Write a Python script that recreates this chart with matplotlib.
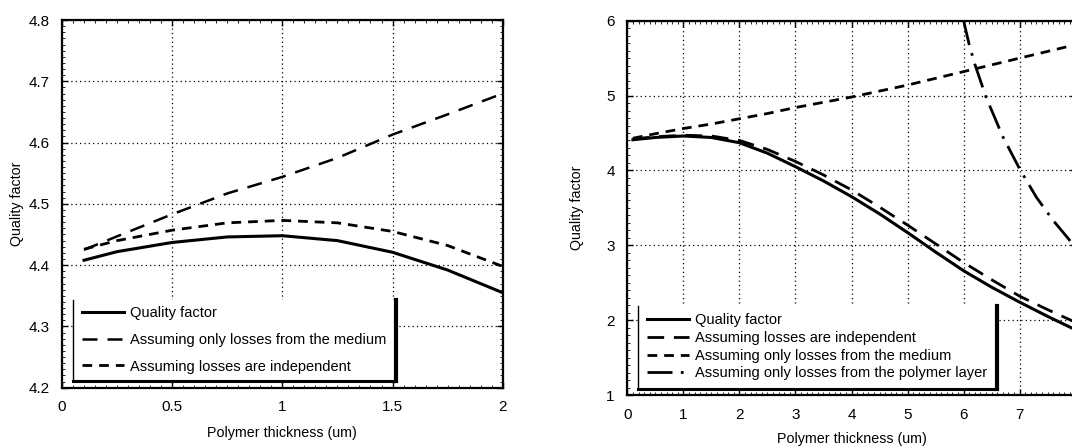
import numpy as np
import matplotlib
matplotlib.use("Agg")
import matplotlib.pyplot as plt
from matplotlib.patches import Rectangle
from matplotlib.lines import Line2D
from matplotlib.ticker import AutoMinorLocator

plt.rcParams['font.family'] = ['Liberation Sans', 'DejaVu Sans']

# left panel: thin polymer layer
x_left = [0.1, 0.25, 0.5, 0.75, 1.0, 1.25, 1.5, 1.75, 2.0]
q_left = [4.408, 4.422, 4.437, 4.446, 4.448, 4.440, 4.421, 4.392, 4.355]
medium_left = [4.425, 4.447, 4.483, 4.517, 4.544, 4.575, 4.613, 4.646, 4.680]
indep_left = [4.426, 4.440, 4.457, 4.469, 4.473, 4.469, 4.455, 4.432, 4.398]

# right panel: thick polymer layer
x_right = [0.1, 0.5, 1.0, 1.5, 2.0, 2.5, 3.0, 3.5, 4.0, 4.5, 5.0, 5.5, 6.0, 6.5, 7.0, 7.5, 8.0]
q_right = [4.41, 4.44, 4.46, 4.44, 4.37, 4.23, 4.05, 3.86, 3.65, 3.42, 3.17, 2.91, 2.66, 2.44, 2.24, 2.05, 1.87]
indep_right = [4.42, 4.45, 4.47, 4.46, 4.40, 4.28, 4.12, 3.94, 3.74, 3.51, 3.27, 3.02, 2.77, 2.54, 2.32, 2.14, 1.97]
medium_right = [4.43, 4.49, 4.56, 4.62, 4.69, 4.76, 4.84, 4.91, 4.98, 5.06, 5.14, 5.23, 5.32, 5.41, 5.50, 5.59, 5.68]
x_poly = [6.0, 6.1, 6.2, 6.4, 6.7, 7.0, 7.3, 7.6, 8.0]
poly_right = [6.0, 5.68, 5.42, 4.98, 4.45, 4.02, 3.64, 3.33, 2.97]

W, H = 1072, 448
fig = plt.figure(figsize=(W / 100, H / 100), dpi=100)

ax1 = fig.add_axes([62 / W, 1 - 387.7 / H, 440.7 / W, 367.7 / H])
ax2 = fig.add_axes([627.3 / W, 1 - 395 / H, 448.4 / W, 374.3 / H])


def style_axes(ax):
    ax.grid(True, which='major', color='black', linestyle=(0, (1, 2.5)), linewidth=0.9)
    ax.set_axisbelow(True)
    for s in ax.spines.values():
        s.set_linewidth(1.6)
        s.set_color('black')
    ax.tick_params(which='both', direction='in', top=True, right=True, labelsize=11)
    ax.tick_params(axis='x', pad=9)
    ax.tick_params(axis='y', pad=9)
    ax.tick_params(which='major', length=4, width=1)
    ax.tick_params(which='minor', length=2, width=0.6)
    ax.xaxis.set_minor_locator(AutoMinorLocator(10))
    ax.yaxis.set_minor_locator(AutoMinorLocator(10))
    ax.set_ylabel('Quality factor', fontsize=10.3)
    ax.set_xlabel('Polymer thickness (um)', fontsize=10.3)


def legend_box(ax, x0, y0, x1, y1):
    ax.add_patch(Rectangle((x0, y0), x1 - x0, y1 - y0, transform=ax.transAxes,
                           facecolor='white', edgecolor='none', zorder=4, clip_on=False))
    ax.add_line(Line2D([x0, x0], [y1, y0], transform=ax.transAxes, color='black', lw=1.0, zorder=4.5))
    ax.add_line(Line2D([x0, x1], [y0, y0], transform=ax.transAxes, color='black', lw=2.2, zorder=4.5))
    ax.add_line(Line2D([x1, x1], [y0, y1], transform=ax.transAxes, color='black', lw=3.0, zorder=4.5))


# ----- left panel -----
style_axes(ax1)
ax1.plot(x_left, q_left, color='black', lw=2.2, label='Quality factor')
ax1.plot(x_left, medium_left, color='black', lw=1.8, dashes=(6, 4),
         label='Assuming only losses from the medium')
ax1.plot(x_left, indep_left, color='black', lw=2.0, dashes=(3.5, 2.5),
         label='Assuming losses are independent')
ax1.set_xlim(0, 2)
ax1.set_ylim(4.2, 4.8)
ax1.set_xticks([0, 0.5, 1, 1.5, 2])
ax1.set_xticklabels(['0', '0.5', '1', '1.5', '2'])
ax1.set_yticks(np.arange(4.2, 4.81, 0.1))
ax1.yaxis.set_label_coords(-0.086, 0.5)
ax1.xaxis.labelpad = 8.5

legend_box(ax1, 0.0256, 0.018, 0.757, 0.2385)
h1, l1 = ax1.get_legend_handles_labels()
leg1 = ax1.legend(h1, l1, loc='upper left', bbox_to_anchor=(0.0447, 0.221), frameon=False,
                  fontsize=10.5, handlelength=2.9, handletextpad=0.43, labelspacing=0.86,
                  borderaxespad=0, borderpad=0)
leg1.set_zorder(6)

# ----- right panel -----
style_axes(ax2)
ax2.plot(x_right, q_right, color='black', lw=2.2, label='Quality factor')
ax2.plot(x_right, indep_right, color='black', lw=2.0, dashes=(6, 3.5),
         label='Assuming losses are independent')
ax2.plot(x_right, medium_right, color='black', lw=2.0, dashes=(3.5, 2.5),
         label='Assuming only losses from the medium')
ax2.plot(x_poly, poly_right, color='black', lw=2.0, dashes=(9, 3, 1, 3),
         label='Assuming only losses from the polymer layer')
ax2.set_xlim(0, 8)
ax2.set_ylim(1, 6)
ax2.set_xticks(range(0, 9))
ax2.set_yticks(range(1, 7))
ax2.yaxis.set_label_coords(-0.097, 0.5)
ax2.xaxis.labelpad = 7.5

legend_box(ax2, 0.0245, 0.015, 0.824, 0.238)
h2, l2 = ax2.get_legend_handles_labels()
leg2 = ax2.legend(h2, l2, loc='upper left', bbox_to_anchor=(0.0433, 0.218), frameon=False,
                  fontsize=10.5, handlelength=2.9, handletextpad=0.43, labelspacing=0.25,
                  borderaxespad=0, borderpad=0)
leg2.set_zorder(6)

fig.savefig('out.png', dpi=100)
